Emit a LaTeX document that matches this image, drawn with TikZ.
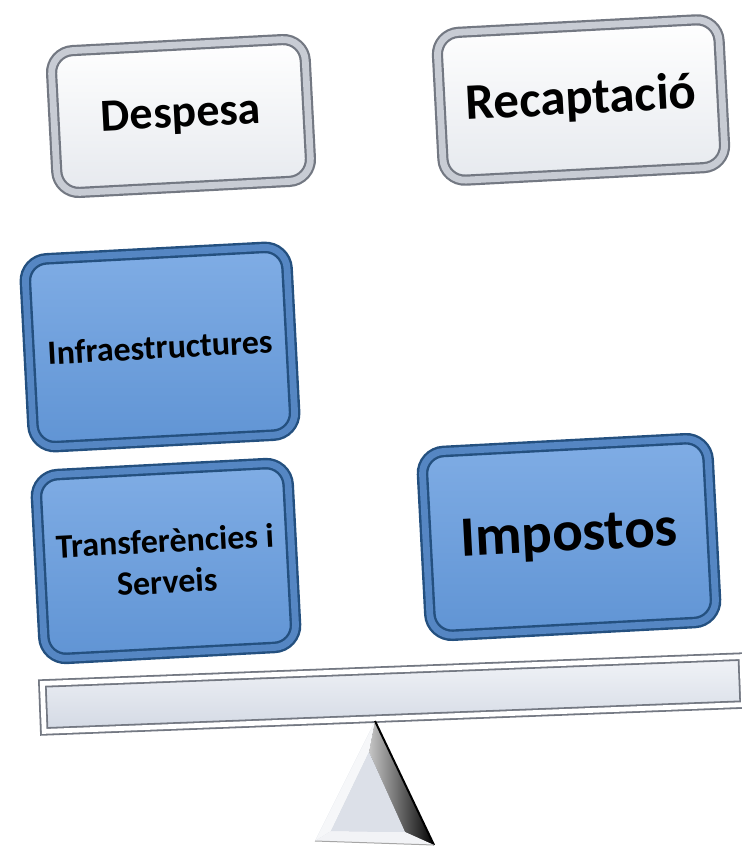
\documentclass[tikz,border=0pt]{standalone}
\usepackage{fontspec}
\setmainfont{Carlito}
\usetikzlibrary{shadows}
\definecolor{bluefill}{HTML}{6094D4}
\definecolor{bluetop}{HTML}{80ADE5}
\definecolor{blueedge}{HTML}{24507F}
\definecolor{blueband}{HTML}{5586C3}
\definecolor{greyedge}{HTML}{737882}
\definecolor{greyband}{HTML}{C8CCD4}
\definecolor{greylight}{HTML}{E6E9EE}
\definecolor{beamtop}{HTML}{F1F3F7}
\definecolor{beammid}{HTML}{D3D9E4}
\definecolor{trifill}{HTML}{D3D8E2}
\tikzset{
	greybox/.style={draw=greyedge,double=greyband,line width=1.1pt,double distance=3.4pt,
		rounded corners=11pt,top color=white,bottom color=greylight,rotate=3,
		drop shadow={shadow xshift=1pt,shadow yshift=-2pt,opacity=.6}},
	bluebox/.style={draw=blueedge,double=blueband,line width=1.2pt,double distance=3.4pt,
		rounded corners=11pt,top color=bluetop,bottom color=bluefill,rotate=3,align=center,
		drop shadow={shadow xshift=1pt,shadow yshift=-2pt,opacity=.5}},
	beambar/.style={draw=greyedge,double=white,line width=.9pt,double distance=2.4pt,
		top color=beamtop,bottom color=beammid,rotate=2.2,
		drop shadow={shadow xshift=0pt,shadow yshift=-1.5pt,opacity=.55}}
}
\begin{document}
\begin{tikzpicture}[x=0.5pt,y=-0.5pt]
	\useasboundingbox (0,0) rectangle (742,846);
	\node[greybox,minimum width=127pt,minimum height=71pt,font=\fontsize{23}{27}\bfseries] (despesa) at (181,116) {Despesa};
	\node[greybox,minimum width=141pt,minimum height=74pt,font=\fontsize{25.5}{30}\bfseries] (recaptacio) at (581,100) {Recaptació};
	\node[bluebox,minimum width=131pt,minimum height=94pt,font=\fontsize{17}{20}\bfseries] (infra) at (160,347) {Infraestructures};
	\node[bluebox,minimum width=126pt,minimum height=92pt,font=\fontsize{17}{20.5}\bfseries] (transf) at (166,561) {Transferències i\\Serveis};
	\node[bluebox,minimum width=143pt,minimum height=92pt,font=\fontsize{28.5}{32}\bfseries] (impostos) at (569,537) {Impostos};
	\node[beambar,minimum width=350pt,minimum height=24pt] (beam) at (393,694) {};
	\coordinate (apex) at (375,721);
	\coordinate (baseL) at (315,841);
	\coordinate (baseR) at (434,845);
	\coordinate (inA) at (369,752);
	\coordinate (inL) at (331,831);
	\coordinate (inR) at (405,832);
	\fill[trifill] (apex) -- (baseL) -- (baseR) -- cycle;
	\fill[left color=gray!45,right color=black] (apex) -- (inA) -- (inR) -- (baseR) -- cycle;
	\fill[white!80!trifill] (apex) -- (baseL) -- (inL) -- (inA) -- cycle;
	\fill[white!70!trifill] (baseL) -- (baseR) -- (inR) -- (inL) -- cycle;
	\fill[trifill!80!white] (inA) -- (inL) -- (inR) -- cycle;
	\draw[line width=1pt] (apex) -- (baseR);
	\draw[gray!70,line width=.5pt] (baseL) -- (baseR);
\end{tikzpicture}
\end{document}
